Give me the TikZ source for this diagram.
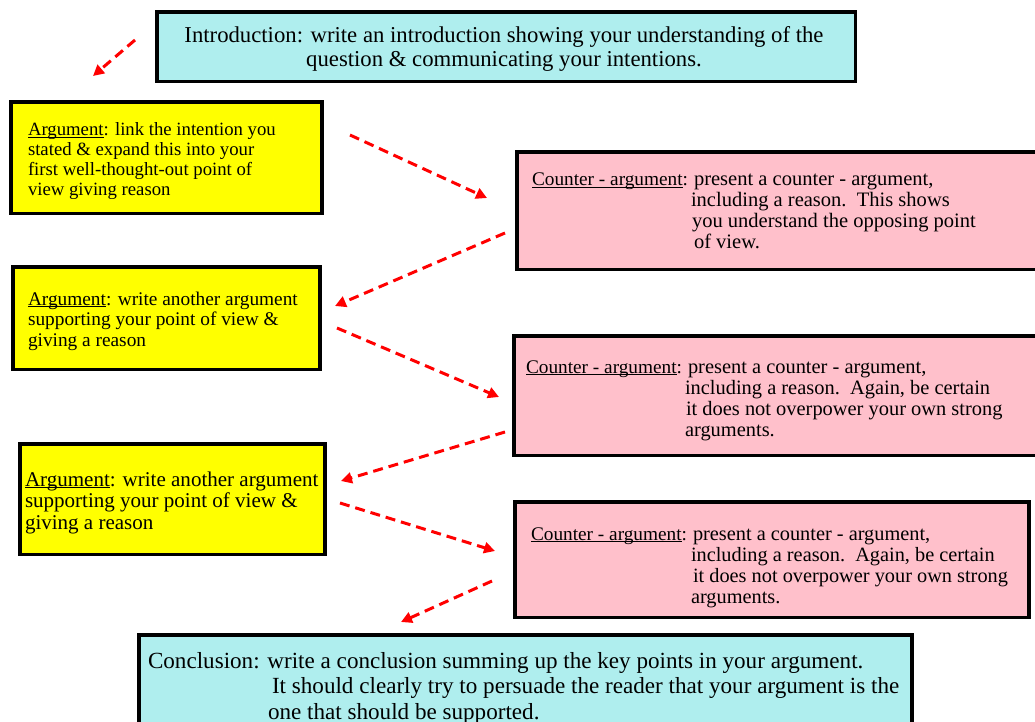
\documentclass[tikz,border=0pt]{standalone}
\usepackage{graphicx}
\usepackage{fontspec}
\setmainfont{Liberation Serif}
\usetikzlibrary{arrows.meta}
\definecolor{introcyan}{RGB}{175,238,238}
\definecolor{counterpink}{RGB}{255,192,203}
\definecolor{argyellow}{RGB}{255,255,0}
\definecolor{arrowred}{RGB}{255,0,0}
\newcommand\myul[1]{\setbox0\hbox{#1}\rlap{\rule[-0.1em]{\wd0}{0.06em}}\box0}
\newcommand\txtlines[1]{\begin{tabular}[t]{@{}l@{}}#1\end{tabular}}
\newcommand\ctrlines[2]{\begin{tabular}[t]{@{}l@{}l@{}}\makebox[162bp][l]{\resizebox{156bp}{!}{\myul{Counter - argument}:}} & #1\\#2\end{tabular}}
\begin{document}
\begin{tikzpicture}[x=1bp,y=-1bp,
  box/.style={draw=black, line width=3.5, inner sep=0, outer sep=0, anchor=north west},
  introbox/.style={box, fill=introcyan},
  argbox/.style={box, fill=argyellow},
  ctrbox/.style={box, fill=counterpink},
  txt/.style={inner sep=0, outer sep=0, anchor=base west},
  flow/.style={draw=arrowred, line width=3, dash pattern=on 10 off 6, -{Triangle[length=11,width=11]}}]
\useasboundingbox (0,0) rectangle (1035,722);
\fill[white] (0,0) rectangle (1035,722);
% boxes
\node[introbox, minimum width=701, minimum height=70] (intro) at (157,12) {};
\node[argbox, minimum width=312, minimum height=112] (arg1) at (11,102) {};
\node[ctrbox, minimum width=528, minimum height=118] (ctr1) at (517,152) {};
\node[argbox, minimum width=308, minimum height=103] (arg2) at (13,267) {};
\node[ctrbox, minimum width=531, minimum height=120] (ctr2) at (514,336) {};
\node[argbox, minimum width=306, minimum height=111] (arg3) at (20,444) {};
\node[ctrbox, minimum width=516, minimum height=116] (ctr3) at (515,502) {};
\node[introbox, minimum width=776, minimum height=105] (concl) at (139,635) {};
% texts
\node[txt, anchor=base, font=\fontsize{22.8}{24}\selectfont] (introtxt) at (504,43)
  {\begin{tabular}[t]{@{}c@{}}Introduction: write an introduction showing your understanding of the\\question \& communicating your intentions.\end{tabular}};
\node[txt, font=\fontsize{18.8}{20}\selectfont] (arg1txt) at (28,136)
  {\txtlines{\myul{Argument}: link the intention you\\stated \& expand this into your\\first well-thought-out point of\\view giving reason}};
\node[txt, font=\fontsize{20.6}{21}\selectfont] (ctr1txt) at (532,186)
  {\ctrlines{present a counter - argument,}{& \hspace{-3bp}including a reason.\ \ This shows\\& \hspace{-2bp}you understand the opposing point\\& of view.}};
\node[txt, font=\fontsize{19.4}{21}\selectfont] (arg2txt) at (28,305)
  {\txtlines{\myul{Argument}: write another argument\\supporting your point of view \&\\giving a reason}};
\node[txt, font=\fontsize{20.5}{21.3}\selectfont] (ctr2txt) at (526,373)
  {\ctrlines{present a counter - argument,}{& \hspace{-3bp}including a reason.\ \ Again, be certain\\& \hspace{-2bp}it does not overpower your own strong\\& \hspace{-3bp}arguments.}};
\node[txt, font=\fontsize{21.1}{22}\selectfont] (arg3txt) at (25,486)
  {\txtlines{\myul{Argument}: write another argument\\supporting your point of view \&\\giving a reason}};
\node[txt, font=\fontsize{20.4}{21.3}\selectfont] (ctr3txt) at (531,540)
  {\ctrlines{present a counter - argument,}{& \hspace{-2bp}including a reason.\ \ Again, be certain\\& it does not overpower your own strong\\& \hspace{-2bp}arguments.}};
\node[txt, font=\fontsize{23.2}{26}\selectfont] (concltxt) at (148,668)
  {\txtlines{Conclusion: write a conclusion summing up the key points in your argument.\\\hspace{124bp}It should clearly try to persuade the reader that your argument is the\\\hspace{120bp}one that should be supported.}};
% connector ends
\coordinate (p0a) at (135,40);  \coordinate (p0b) at (93,76);
\coordinate (p1a) at (350,135); \coordinate (p1b) at (487,198);
\coordinate (p2a) at (505,233); \coordinate (p2b) at (335,306);
\coordinate (p3a) at (337,328); \coordinate (p3b) at (499,397);
\coordinate (p4a) at (505,432); \coordinate (p4b) at (341,481);
\coordinate (p5a) at (340,503); \coordinate (p5b) at (495,551);
\coordinate (p6a) at (492,581); \coordinate (p6b) at (401,622);
\draw[flow] (p0a) -- (p0b);
\draw[flow] (p1a) -- (p1b);
\draw[flow] (p2a) -- (p2b);
\draw[flow] (p3a) -- (p3b);
\draw[flow] (p4a) -- (p4b);
\draw[flow] (p5a) -- (p5b);
\draw[flow] (p6a) -- (p6b);
\end{tikzpicture}
\end{document}
